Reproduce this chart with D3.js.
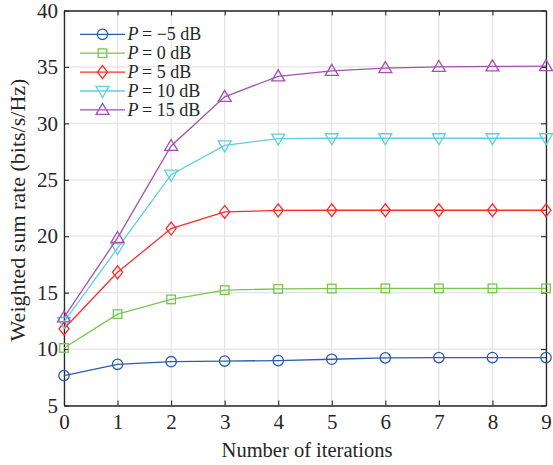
<!DOCTYPE html>
<html><head><meta charset="utf-8">
<script src="https://cdn.jsdelivr.net/npm/d3@7"></script>
<style>body{margin:0;background:#fff}svg{display:block}text{font-family:"Liberation Serif","Times New Roman",serif;fill:#262626}</style>
</head><body>
<svg id="c" width="553" height="465"></svg>
<script>
const iterations = [0,1,2,3,4,5,6,7,8,9];
const seriesNames = ["−5","0","5","10","15"];
const pm5 = [7.65, 8.65, 8.88, 8.94, 8.98, 9.1, 9.22, 9.25, 9.25, 9.25];
const p0  = [10.1, 13.1, 14.4, 15.22, 15.33, 15.36, 15.38, 15.38, 15.38, 15.38];
const p5  = [11.8, 16.8, 20.68, 22.15, 22.29, 22.3, 22.3, 22.3, 22.3, 22.3];
const p10 = [12.4, 18.95, 25.45, 28.05, 28.65, 28.68, 28.68, 28.68, 28.68, 28.68];
const p15 = [12.8, 19.85, 28.0, 32.35, 34.17, 34.65, 34.9, 35.0, 35.05, 35.07];
const yTicks = [5,10,15,20,25,30,35,40];
const colors = ["#2b5cb0","#77c74a","#ff2b2b","#5fcfdc","#a352b0"];
const markers = ["circle","square","diamond","tri-down","tri-up"];
const allSeries = [pm5,p0,p5,p10,p15];

const svg = d3.select("#c");
const L=64, R=546, T=10.5, B=405.5;
const x = d3.scaleLinear().domain([0,9]).range([L,R]);
const y = d3.scaleLinear().domain([5,40]).range([B,T]);

// grid
const g = svg.append("g");
g.selectAll(".gx").data(iterations).enter().append("line")
 .attr("x1",d=>x(d)).attr("x2",d=>x(d)).attr("y1",T).attr("y2",B)
 .attr("stroke","#e3e3e3").attr("stroke-width",1.2);
g.selectAll(".gy").data(yTicks).enter().append("line")
 .attr("y1",d=>y(d)).attr("y2",d=>y(d)).attr("x1",L).attr("x2",R)
 .attr("stroke","#e3e3e3").attr("stroke-width",1.2);

// axes
const ax = svg.append("g").attr("transform",`translate(0,${B})`)
 .call(d3.axisBottom(x).tickValues(iterations).tickFormat(d3.format("d")).tickSizeInner(-5).tickSizeOuter(0).tickPadding(9));
const ay = svg.append("g").attr("transform",`translate(${L},0)`)
 .call(d3.axisLeft(y).tickValues(yTicks).tickSizeInner(-5).tickSizeOuter(0).tickPadding(6));
const axT = svg.append("g").attr("transform",`translate(0,${T})`)
 .call(d3.axisTop(x).tickValues(iterations).tickFormat("").tickSizeInner(-5).tickSizeOuter(0));
const ayR = svg.append("g").attr("transform",`translate(${R},0)`)
 .call(d3.axisRight(y).tickValues(yTicks).tickFormat("").tickSizeInner(-5).tickSizeOuter(0));
[ax,ay,axT,ayR].forEach(a=>{a.select(".domain").attr("stroke","#262626").attr("stroke-width",1.3);
 a.selectAll(".tick line").attr("stroke","#262626").attr("stroke-width",1.1);
 a.selectAll(".tick text").attr("font-size",21).attr("font-family","Liberation Serif").attr("fill","#262626");});

function marker(sel, type, color){
  if(type==="circle") sel.append("circle").attr("r",5.2);
  else if(type==="square") sel.append("rect").attr("x",-4.3).attr("y",-4.3).attr("width",8.6).attr("height",8.6);
  else if(type==="diamond") sel.append("path").attr("d","M0,-6.5L5,0L0,6.5L-5,0Z");
  else if(type==="tri-down") sel.append("path").attr("d","M-6.5,-4.5L6.5,-4.5L0,6.5Z");
  else sel.append("path").attr("d","M-6.5,4.5L6.5,4.5L0,-6.5Z");
  sel.selectAll("*").attr("fill","none").attr("stroke",color).attr("stroke-width",1.3);
}

const line = d3.line().x((d,i)=>x(iterations[i])).y(d=>y(d));
allSeries.forEach((s,k)=>{
  const sg = svg.append("g");
  sg.append("path").datum(s).attr("d",line).attr("fill","none").attr("stroke",colors[k]).attr("stroke-width",1.3);
  s.forEach((v,i)=>{
    const m = sg.append("g").attr("transform",`translate(${x(iterations[i])},${y(v)})`);
    marker(m, markers[k], colors[k]);
  });
});

// legend
const lg = svg.append("g");
seriesNames.forEach((n,k)=>{
  const yy = 34.3 + k*18.9;
  lg.append("line").attr("x1",80).attr("x2",125).attr("y1",yy).attr("y2",yy).attr("stroke",colors[k]).attr("stroke-width",1.3);
  const m = lg.append("g").attr("transform",`translate(102.5,${yy})`);
  marker(m, markers[k], colors[k]);
  lg.append("text").attr("x",127.5).attr("y",yy+6).attr("font-size",18).attr("font-style","italic").text("P");
  lg.append("text").attr("x",142).attr("y",yy+6).attr("font-size",18).attr("xml:space","preserve").text("= "+n+" dB");
});

svg.append("text").attr("x",(L+R)/2+2).attr("y",457).attr("text-anchor","middle").attr("font-size",20.5).text("Number of iterations");
svg.append("text").attr("transform",`translate(25,${210}) rotate(-90)`).attr("text-anchor","middle").attr("font-size",22).text("Weighted sum rate (bits/s/Hz)");
</script>
</body></html>
